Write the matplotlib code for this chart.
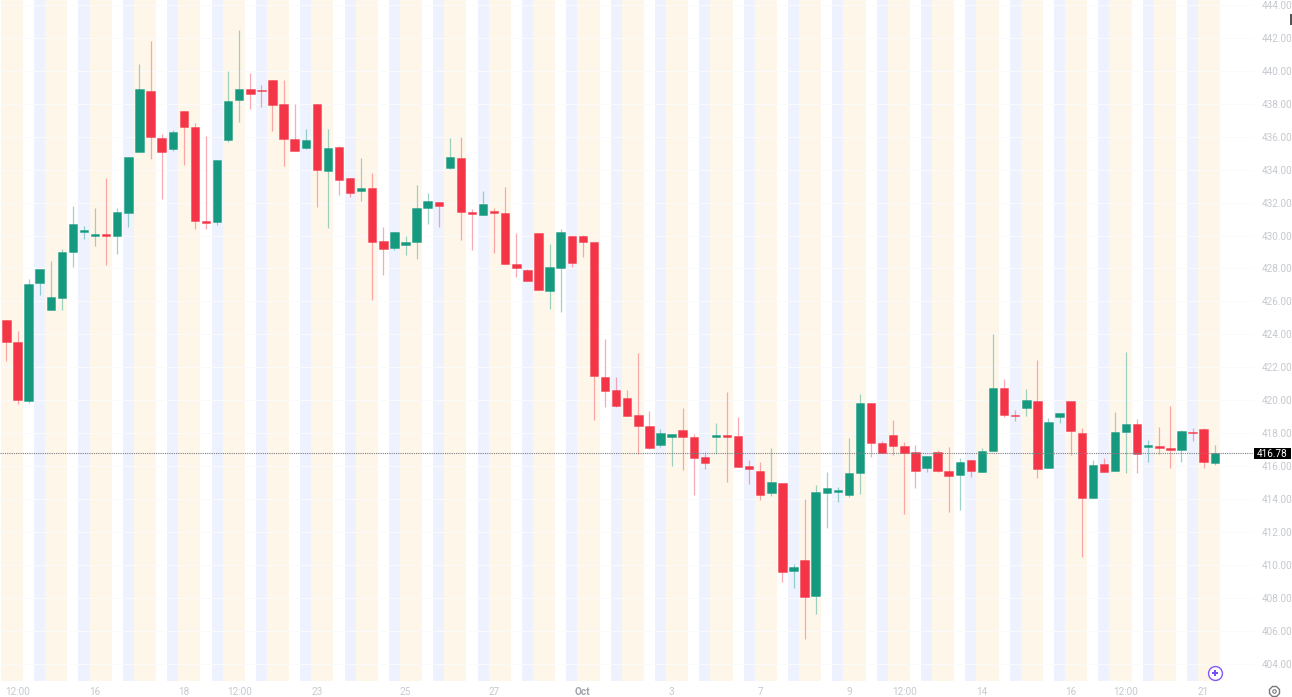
import matplotlib
matplotlib.use('Agg')
import matplotlib.pyplot as plt
from matplotlib.lines import Line2D
from matplotlib.patches import Rectangle

plt.rcParams['font.family'] = ['Roboto', 'DejaVu Sans']

opens = [424.87, 423.52, 419.97, 427.10, 425.48, 426.23, 428.98, 430.24, 430.00, 430.08,
         429.98, 431.35, 435.10, 438.78, 435.93, 435.26, 437.55, 436.62, 430.87, 430.81,
         435.81, 438.24, 438.91, 438.85, 439.47, 438.00, 435.89, 435.30, 438.00, 433.94,
         435.36, 433.50, 432.71, 432.91, 429.67, 429.23, 429.41, 429.61, 431.66, 432.02,
         434.09, 434.73, 431.41, 431.27, 431.49, 431.39, 428.27, 427.89, 430.16, 426.63,
         428.05, 429.96, 429.96, 429.61, 421.41, 420.64, 420.15, 419.10, 418.45, 417.28,
         417.74, 418.17, 417.78, 416.53, 417.78, 417.87, 417.82, 415.98, 415.72, 414.38,
         414.99, 409.64, 410.29, 408.08, 414.38, 414.42, 414.22, 415.56, 419.81, 417.42,
         417.87, 417.22, 416.83, 415.88, 416.87, 415.68, 415.46, 416.35, 415.66, 416.89,
         420.76, 419.12, 419.51, 419.97, 415.88, 418.98, 419.97, 417.99, 414.06, 416.10,
         415.72, 418.05, 418.53, 417.18, 417.22, 417.08, 416.97, 418.05, 418.23, 416.21]
highs = [424.87, 424.20, 427.34, 427.99, 428.48, 429.19, 431.82, 430.58, 431.66, 433.52,
         431.70, 434.78, 440.43, 441.84, 436.15, 436.42, 437.55, 436.86, 436.05, 434.61,
         440.00, 442.47, 439.90, 439.13, 439.47, 439.45, 437.97, 436.46, 438.00, 436.48,
         435.44, 433.50, 434.71, 433.78, 430.52, 430.24, 430.00, 433.09, 432.57, 432.02,
         435.93, 435.97, 431.60, 432.73, 431.66, 432.93, 430.14, 427.97, 430.16, 429.51,
         430.42, 429.96, 430.02, 429.61, 423.74, 421.43, 420.62, 422.87, 419.36, 418.25,
         417.95, 419.51, 417.95, 416.87, 418.61, 420.48, 418.98, 416.35, 416.23, 417.08,
         414.99, 410.05, 413.98, 414.83, 415.64, 414.73, 417.72, 420.36, 419.81, 417.54,
         418.80, 417.44, 417.30, 416.63, 416.97, 417.14, 416.47, 416.35, 417.10, 424.02,
         421.31, 419.40, 420.66, 422.46, 418.90, 419.24, 419.97, 418.29, 416.35, 416.47,
         419.28, 422.95, 418.86, 417.56, 418.37, 419.65, 418.21, 418.33, 418.29, 417.26]
lows = [422.40, 419.75, 419.81, 426.39, 425.48, 425.48, 428.07, 429.77, 429.37, 428.21,
        428.86, 430.50, 435.10, 434.63, 432.22, 435.16, 434.29, 430.42, 430.42, 430.66,
        435.71, 436.90, 437.69, 437.81, 436.38, 434.25, 435.14, 435.24, 431.76, 430.44,
        432.49, 432.37, 432.12, 426.09, 427.59, 429.15, 428.82, 428.58, 430.73, 430.54,
        434.05, 429.73, 429.15, 431.27, 428.96, 428.27, 427.46, 427.26, 426.67, 425.56,
        425.38, 428.11, 428.72, 418.80, 419.57, 419.61, 419.06, 416.71, 417.04, 417.16,
        416.00, 415.76, 414.26, 415.80, 416.75, 415.01, 415.96, 414.89, 413.96, 414.20,
        408.98, 408.57, 405.49, 407.01, 412.26, 413.84, 414.10, 414.30, 416.57, 416.77,
        416.67, 413.11, 414.67, 415.64, 415.62, 413.23, 413.33, 415.35, 415.66, 416.89,
        419.00, 418.74, 419.04, 415.25, 415.88, 418.64, 416.67, 410.49, 414.06, 415.62,
        415.72, 415.60, 415.60, 416.27, 416.73, 415.88, 416.25, 417.52, 415.90, 416.08]
closes = [423.56, 420.01, 427.06, 427.99, 426.29, 429.02, 430.70, 430.36, 430.08, 429.98,
          431.43, 434.78, 438.91, 435.97, 435.06, 436.31, 436.62, 430.89, 430.77, 434.61,
          438.20, 438.91, 438.60, 438.81, 437.95, 435.85, 435.14, 435.81, 433.99, 435.32,
          433.38, 432.59, 432.91, 429.61, 429.21, 430.24, 429.63, 431.70, 432.10, 431.82,
          434.80, 431.45, 431.29, 431.90, 431.39, 428.27, 428.05, 427.26, 426.67, 428.07,
          430.20, 428.34, 429.61, 421.45, 420.58, 419.65, 419.06, 418.43, 417.08, 417.99,
          417.95, 417.74, 416.51, 416.20, 417.87, 417.78, 415.96, 415.84, 414.24, 415.03,
          409.54, 409.89, 408.04, 414.44, 414.65, 414.54, 415.56, 419.85, 417.40, 416.77,
          417.24, 416.81, 415.70, 416.63, 415.68, 415.42, 416.27, 415.70, 416.93, 420.72,
          419.08, 419.06, 419.99, 415.84, 418.65, 419.24, 418.11, 414.06, 416.06, 415.62,
          418.09, 418.53, 416.75, 417.28, 417.12, 416.97, 418.11, 417.99, 416.25, 416.78]

last_price = 416.78
price_ticks = list(range(404, 446, 2))
time_pos = [1, 8, 16, 21, 28, 36, 44, 52, 60, 68, 76, 81, 88, 96, 101, 108]
time_labels = ['12:00', '16', '18', '12:00', '23', '25', '27', 'Oct', '3', '7', '9', '12:00', '14', '16', '12:00', '21']

UP = '#159A80'
DOWN = '#F43548'
W, H = 1292, 697

fig = plt.figure(figsize=(W / 100, H / 100), dpi=100)
ax = fig.add_axes([0, 16 / H, 1253 / W, 681 / H])
ax.set_xlim(-0.58, 112.45)
ax.set_ylim(402.94, 444.31)

# session bands, 4 candles each: two orange, one white, one blue
for i in range(len(opens)):
    if i % 4 < 2:
        ax.axvspan(i - 0.5, i + 0.5, color='#FFF6EA', lw=0, zorder=1)
    elif i % 4 == 3:
        ax.axvspan(i - 0.5, i + 0.5, color='#EDF2FE', lw=0, zorder=1)

ax.grid(axis='y', color='#FBFBFC', lw=0.7, zorder=0)

for i in range(len(opens)):
    col = UP if closes[i] >= opens[i] else DOWN
    ax.plot([i, i], [lows[i], highs[i]], color=col, alpha=0.42, lw=0.9, zorder=2, solid_capstyle='butt')
    # thin doji bodies still need to show up
    ax.bar(i, abs(closes[i] - opens[i]), bottom=min(opens[i], closes[i]), width=0.76,
           color=col, edgecolor=col + '70', lw=0.7, zorder=3)

ax.axhline(last_price, color='#7C7F85', lw=0.8, ls=(0, (1, 1)), zorder=4)

ax.plot([109.06], [403.42], 'o', ms=10, mfc='white', mec='#8458F5', mew=1.0, zorder=5, clip_on=False)
ax.plot([109.06], [403.42], 'P', ms=5, color='#7A4DF2', mew=0, zorder=6, clip_on=False)

ax.set_yticks(price_ticks)
ax.set_yticklabels(['%.2f' % p for p in price_ticks], fontsize=7.2, color='#C6C9CE')
ax.yaxis.tick_right()
ax.tick_params(axis='y', length=0, pad=6)
ax.set_xticks(time_pos)
ax.set_xticklabels(time_labels, fontsize=7.2, color='#C6C9CE')
ax.tick_params(axis='x', length=0, pad=4)
for t in ax.get_xticklabels():
    if t.get_text() == 'Oct':
        t.set_color('#A0A4AB')
        t.set_fontweight('bold')
for s in ax.spines.values():
    s.set_visible(False)

# last price tag, outside the plot on the right
fig.add_artist(Rectangle((1254 / W, 1 - 459 / H), 37 / W, 11 / H, color='black', lw=0, transform=fig.transFigure))
fig.text(1272.5 / W, 1 - 453.8 / H, '%.2f' % last_price, color='white', fontsize=7.2, ha='center', va='center')

fig.add_artist(Rectangle((1290 / W, 1 - 25 / H), 2 / W, 11 / H, color='#555555', lw=0, transform=fig.transFigure))

# settings gear
fig.add_artist(Line2D([1274 / W], [1 - 691 / H], marker='8', ms=7.5, mfc='white', mec='#77797E', mew=1.0, transform=fig.transFigure))
fig.add_artist(Line2D([1274 / W], [1 - 691 / H], marker='o', ms=2.5, mfc='white', mec='#77797E', mew=0.8, transform=fig.transFigure))

fig.savefig('out.png', dpi=100)
